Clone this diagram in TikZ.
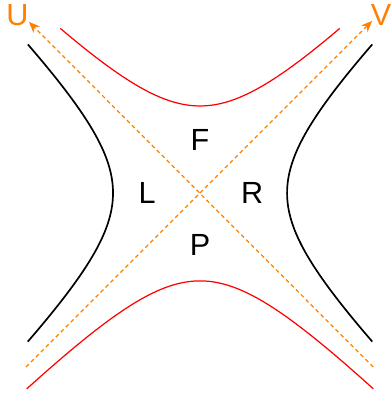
\documentclass[tikz,border=0pt]{standalone}
\usepackage{fontspec}
\setmainfont{Liberation Sans}
\usetikzlibrary{arrows.meta}
\definecolor{lightcone}{RGB}{255,128,0}
\tikzset{
  horizon/.style={lightcone,line width=0.4pt,dash pattern=on 1.3pt off 1pt,
    -{Stealth[length=3.6pt,width=3pt]}},
  regionlabel/.style={font=\fontsize{10}{12}\selectfont},
}
\begin{document}
\begin{tikzpicture}[x=1cm,y=1cm]
    \useasboundingbox (-2.299,-2.333) rectangle (2.184,2.218);
    % iperboli: nere a sinistra/destra, rosse sopra/sotto
    \draw[line width=0.55pt,smooth,samples=40,variable=\t,domain=-1.305:1.305] plot ({-cosh(\t)},{sinh(\t)});
    \draw[line width=0.55pt,smooth,samples=40,variable=\t,domain=-1.305:1.305] plot ({cosh(\t)},{sinh(\t)});
    \draw[red,line width=0.4pt,smooth,samples=40,variable=\t,domain=-1.252:1.252] plot ({sinh(\t)},{cosh(\t)});
    \draw[red,line width=0.4pt,smooth,samples=40,variable=\t,domain=-1.44:1.44] plot ({sinh(\t)},{-1.01*cosh(\t)});
    \coordinate (vstart) at (-2.0,-2.0);
    \coordinate (vend)   at (1.977,1.977);
    \coordinate (ustart) at (1.99,-2.0);
    \coordinate (uend)   at (-1.966,1.966);
    \draw[horizon] (vstart) -- (vend);
    \draw[horizon] (ustart) -- (uend);
    \node[regionlabel,lightcone] (U) at (-2.098,2.046) {U};
    \node[regionlabel,lightcone] (V) at (2.080,2.046)  {V};
    \node[regionlabel] (F) at (0,0.609)  {F};
    \node[regionlabel] (L) at (-0.609,0) {L};
    \node[regionlabel] (R) at (0.598,0)  {R};
    \node[regionlabel] (P) at (0,-0.598) {P};
  \end{tikzpicture}
\end{document}
